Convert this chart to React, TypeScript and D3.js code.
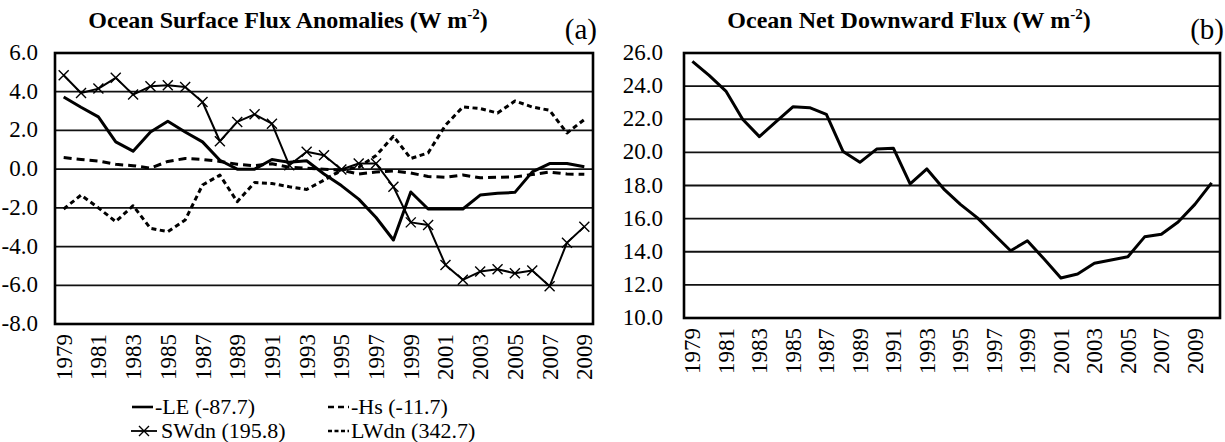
import React from "react";
import * as d3 from "d3";

const yearsA = [1979,1980,1981,1982,1983,1984,1985,1986,1987,1988,1989,1990,1991,1992,1993,1994,1995,1996,1997,1998,1999,2000,2001,2002,2003,2004,2005,2006,2007,2008,2009];
const yearsB = [1979,1980,1981,1982,1983,1984,1985,1986,1987,1988,1989,1990,1991,1992,1993,1994,1995,1996,1997,1998,1999,2000,2001,2002,2003,2004,2005,2006,2007,2008,2009,2010];
const tickYearsLabels = [1979,1981,1983,1985,1987,1989,1991,1993,1995,1997,1999,2001,2003,2005,2007,2009];

const negLE = [3.73,3.2,2.7,1.41,0.93,1.92,2.47,1.92,1.41,0.46,0.0,0.0,0.5,0.35,0.43,-0.25,-0.85,-1.55,-2.5,-3.66,-1.18,-2.06,-2.06,-2.06,-1.34,-1.25,-1.2,-0.14,0.29,0.29,0.12];
const negHs = [0.6,0.5,0.42,0.25,0.18,0.05,0.4,0.55,0.5,0.4,0.25,0.18,0.28,0.1,0.05,0.0,-0.05,-0.25,-0.15,-0.1,-0.2,-0.38,-0.42,-0.3,-0.45,-0.42,-0.4,-0.28,-0.15,-0.25,-0.27];
const swdn = [4.85,3.93,4.16,4.72,3.85,4.28,4.33,4.24,3.47,1.44,2.44,2.83,2.35,0.2,0.9,0.72,-0.02,0.29,0.29,-0.91,-2.75,-2.89,-4.95,-5.72,-5.29,-5.17,-5.38,-5.24,-6.05,-3.8,-2.97];
const lwdn = [-2.06,-1.34,-2.0,-2.71,-1.89,-3.06,-3.23,-2.63,-0.82,-0.31,-1.68,-0.69,-0.74,-0.91,-1.05,-0.57,-0.05,0.1,0.7,1.7,0.55,0.84,2.27,3.21,3.13,2.9,3.52,3.21,3.04,1.87,2.56];
const netFlux = [25.5,24.65,23.7,22.0,20.95,21.85,22.75,22.7,22.3,20.05,19.4,20.2,20.25,18.1,19.0,17.8,16.86,16.06,15.06,14.06,14.66,13.56,12.42,12.66,13.3,13.5,13.7,14.9,15.06,15.8,16.86,18.16];

const ticksA = [6,4,2,0,-2,-4,-6,-8];
const ticksB = [26,24,22,20,18,16,14,12,10];

const legendA = [
  { label: "-LE (-87.7)", dash: "none", marker: false },
  { label: "-Hs (-11.7)", dash: "6,4", marker: false },
  { label: "SWdn (195.8)", dash: "none", marker: true },
  { label: "LWdn (342.7)", dash: "4,2.5", marker: false },
];

const FONT = "Liberation Serif, Times New Roman, DejaVu Serif, serif";

type Series = { values: number[]; dash: string; width: number; marker: boolean };

function Panel(props: {
  left: number; right: number; top: number; bottom: number; labelGap: number;
  years: number[]; yDomain: [number, number]; ticks: number[];
  series: Series[]; title: string; tag: string; titleX: number;
}) {
  const { left, right, top, bottom, labelGap, years, yDomain, ticks, series, title, tag, titleX } = props;
  const x = d3.scalePoint<number>().domain(years).range([left, right]).padding(0.5);
  const y = d3.scaleLinear().domain(yDomain).range([bottom, top]);
  const line = d3.line<number>().x((_, i) => x(years[i]) as number).y((d) => y(d));
  return (
    <g>
      <text x={titleX} y={28} textAnchor="middle" style={{ fontFamily: FONT }} fontWeight="bold" fontSize={24}>
        <tspan>{title}</tspan>
        <tspan dy={-9} fontSize={15}>-2</tspan>
        <tspan dy={9}>)</tspan>
      </text>
      <text x={right + 4} y={39} textAnchor="end" style={{ fontFamily: FONT }} fontSize={29}>{tag}</text>
      {ticks.map((t) => (
        <g key={t}>
          <line x1={left} x2={right} y1={y(t)} y2={y(t)} stroke="#111" strokeWidth={1.8} />
          <text x={left - labelGap} y={y(t) + 7} textAnchor="end" style={{ fontFamily: FONT }} fontSize={23}>{t.toFixed(1)}</text>
        </g>
      ))}
      <rect x={left} y={top} width={right - left} height={bottom - top} fill="none" stroke="#000" strokeWidth={2.6} />
      {tickYearsLabels.map((yr) => (
        <text key={yr} transform={`translate(${(x(yr) as number) + 8},${bottom + 10}) rotate(-90)`} textAnchor="end"
          style={{ fontFamily: FONT }} fontSize={23}>{yr}</text>
      ))}
      {series.map((s, k) => (
        <g key={k}>
          <path d={line(s.values) || ""} fill="none" stroke="#000" strokeWidth={s.width}
            strokeDasharray={s.dash} strokeLinejoin="round" />
          {s.marker && s.values.map((v, i) => (
            <path key={i} transform={`translate(${x(years[i])},${y(v)})`} d="M-5,-5L5,5M-5,5L5,-5"
              stroke="#000" strokeWidth={1.4} fill="none" />
          ))}
        </g>
      ))}
    </g>
  );
}

export default function App() {
  const seriesA: Series[] = [
    { values: negLE, dash: "none", width: 3, marker: false },
    { values: negHs, dash: "8,5", width: 3, marker: false },
    { values: swdn, dash: "none", width: 2, marker: true },
    { values: lwdn, dash: "5,3.5", width: 3, marker: false },
  ];
  const seriesB: Series[] = [{ values: netFlux, dash: "none", width: 3, marker: false }];
  const legPos = [
    { x: 132, y: 414 }, { x: 328, y: 414 }, { x: 131, y: 438 }, { x: 328, y: 438 },
  ];
  return (
    <svg width={1225} height={442} style={{ position: "absolute", left: 0, top: 0, background: "#fff" }}>
      <rect width={1225} height={442} fill="#fff" />
      <Panel left={55} right={593} top={53} bottom={324} labelGap={17} years={yearsA} yDomain={[-8, 6]} ticks={ticksA}
        series={seriesA} title="Ocean Surface Flux Anomalies (W m" tag="(a)" titleX={288} />
      <Panel left={684} right={1220} top={53} bottom={318} labelGap={21} years={yearsB} yDomain={[10, 26]} ticks={ticksB}
        series={seriesB} title="Ocean Net Downward Flux (W m" tag="(b)" titleX={909} />
      {legendA.map((l, i) => (
        <g key={l.label} transform={`translate(${legPos[i].x},${legPos[i].y})`}>
          <line x1={0} x2={l.marker ? 26 : 21} y1={-7} y2={-7} stroke="#000" strokeWidth={l.marker ? 1.8 : 2.6}
            strokeDasharray={l.dash} />
          {l.marker && <path d="M8,-12L18,-2M8,-2L18,-12" stroke="#000" strokeWidth={1.4} />}
          <text x={l.marker ? 30 : 23} y={0} style={{ fontFamily: FONT }} fontSize={22}>{l.label}</text>
        </g>
      ))}
    </svg>
  );
}
